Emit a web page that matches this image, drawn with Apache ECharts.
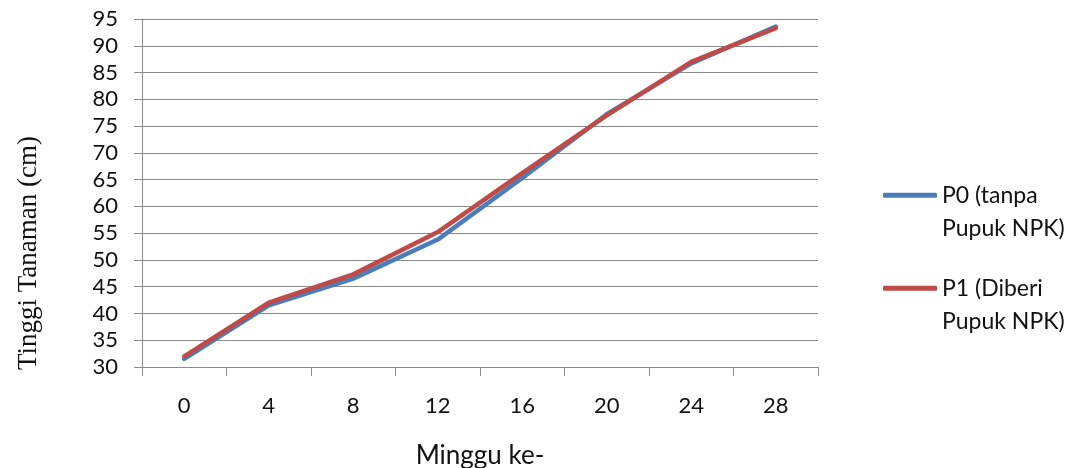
<!DOCTYPE html>
<html>
<head>
<meta charset="utf-8">
<script src="https://cdn.jsdelivr.net/npm/echarts@6/dist/echarts.min.js"></script>
<style>html,body{margin:0;padding:0;background:#fff;overflow:hidden}#c{width:1074px;height:468px}</style>
</head>
<body>
<div id="c"></div>
<script>
const categories = ['0', '4', '8', '12', '16', '20', '24', '28'];
const p0Name = 'P0 (tanpa Pupuk NPK)';
const p1Name = 'P1 (Diberi Pupuk NPK)';
const p0Values = [31.5, 41.5, 46.5, 53.8, 65.3, 77.2, 86.7, 93.6];
const p1Values = [32.0, 42.0, 47.3, 55.2, 66.2, 77.0, 87.0, 93.3];
const yTicks = [30, 35, 40, 45, 50, 55, 60, 65, 70, 75, 80, 85, 90, 95];

const chart = echarts.init(document.getElementById('c'), null, {renderer: 'canvas'});
const font = 'Lato, "Noto Sans", sans-serif';
const legendBase = {
  orient: 'vertical', left: 883, padding: 0, itemWidth: 54, itemHeight: 5,
  icon: 'roundRect', itemGap: 0,
  textStyle: {fontFamily: font, fontSize: 23, color: '#111', lineHeight: 33.5},
  formatter: function (n) {
    const parts = n.split(' ');
    return ' \n' + parts.slice(0, 2).join(' ') + '\n' + parts.slice(2).join(' ');
  }
};
chart.setOption({
  animation: false,
  grid: {left: 142, right: 256, top: 19, bottom: 101, containLabel: false, outerBoundsMode: 'none'},
  legend: [
    Object.assign({}, legendBase, {top: 145, data: [p0Name]}),
    Object.assign({}, legendBase, {top: 238, data: [p1Name]})
  ],
  xAxis: {
    type: 'category', data: categories, boundaryGap: true,
    name: 'Minggu ke-', nameLocation: 'middle', nameGap: 76,
    nameTextStyle: {fontFamily: font, fontSize: 26, color: '#111'},
    axisLine: {lineStyle: {color: '#8c8c8c', width: 1}},
    axisTick: {show: true, length: 9, lineStyle: {color: '#8c8c8c'}, alignWithLabel: false},
    axisLabel: {fontFamily: font, fontSize: 22, color: '#111', margin: 28}
  },
  yAxis: {
    type: 'value', min: yTicks[0], max: yTicks[yTicks.length - 1], interval: 5,
    name: 'Tinggi Tanaman (cm)', nameLocation: 'middle', nameGap: 100,
    nameTextStyle: {fontFamily: '"Liberation Serif", "DejaVu Serif", serif', fontSize: 27, color: '#111', padding: [0, 120, 0, 0]},
    axisLine: {show: true, lineStyle: {color: '#8c8c8c', width: 1}},
    axisTick: {show: true, length: 8, lineStyle: {color: '#8c8c8c'}},
    axisLabel: {fontFamily: font, fontSize: 22, color: '#111', margin: 24},
    splitLine: {show: true, lineStyle: {color: '#8c8c8c', width: 1}}
  },
  series: [
    {name: p0Name, type: 'line', data: p0Values, symbol: 'none', color: '#4a7ebb',
     lineStyle: {width: 4.5, color: '#4a7ebb', cap: 'round', join: 'round'}},
    {name: p1Name, type: 'line', data: p1Values, symbol: 'none', color: '#be4b48',
     lineStyle: {width: 4.5, color: '#be4b48', cap: 'round', join: 'round'}}
  ]
});
</script>
</body>
</html>
